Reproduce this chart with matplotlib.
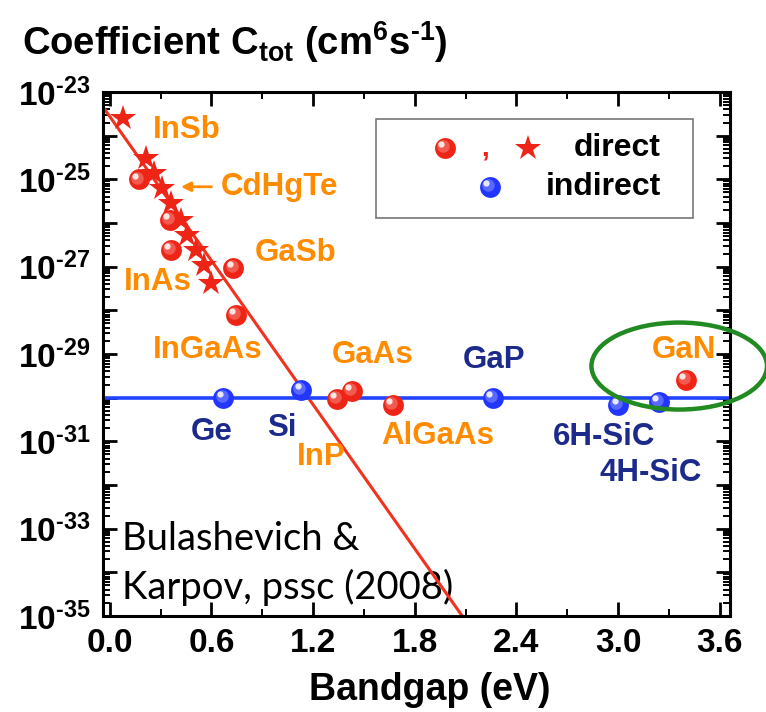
import numpy as np
import matplotlib
matplotlib.use("Agg")
import matplotlib.pyplot as plt
from matplotlib.ticker import FixedLocator, MultipleLocator, FuncFormatter, NullFormatter
from matplotlib.patches import Ellipse, Rectangle
from matplotlib.transforms import offset_copy

plt.rcParams['font.family'] = ['Liberation Sans', 'DejaVu Sans']
plt.rcParams['mathtext.fontset'] = 'custom'
plt.rcParams['mathtext.rm'] = 'Liberation Sans'
plt.rcParams['mathtext.bf'] = 'Liberation Sans:bold'
plt.rcParams['mathtext.it'] = 'Liberation Sans:italic'

# ---- data -------------------------------------------------------------
# direct-gap materials (spheres)
direct_eg = [0.17, 0.355, 0.36, 0.73, 0.745, 1.34, 1.43, 1.67, 3.40]
direct_c = [1.0e-25, 1.2e-26, 2.4e-27, 9.3e-28, 7.9e-29, 9.3e-31, 1.45e-30, 6.9e-31, 2.6e-30]

# CdHgTe alloys (stars)
cdhgte_eg = [0.077, 0.213, 0.26, 0.308, 0.36, 0.42, 0.456, 0.51, 0.556, 0.60]
cdhgte_c = [2.6e-24, 3.1e-25, 1.4e-25, 6.3e-26, 2.9e-26, 1.2e-26, 5.4e-27, 2.4e-27, 1.1e-27, 4.3e-28]

# indirect-gap materials
indirect_eg = [0.67, 1.13, 2.26, 3.00, 3.24]
indirect_c = [1.0e-30, 1.5e-30, 1.0e-30, 6.9e-31, 8.1e-31]

# fits
direct_fit_c0 = 2.75e-24        # value at Eg = 0
direct_fit_slope = -5.5         # decades per eV
indirect_fit_c = 1.0e-30

# material labels: text, Eg position, C position, colour group
label_text = ["InSb", "CdHgTe", "GaSb", "InAs", "InGaAs", "GaAs", "InP", "AlGaAs", "GaN",
              "Ge", "Si", "GaP", "6H-SiC", "4H-SiC"]
label_eg = [0.254, 0.657, 0.858, 0.083, 0.254, 1.31, 1.107, 1.60, 3.20,
            0.48, 0.93, 2.08, 2.615, 2.89]
label_logc = [-23.87, -25.17, -26.68, -27.35, -28.90, -29.02, -31.35, -30.87, -28.90,
              -30.78, -30.69, -29.13, -30.89, -31.72]
label_group = ["direct"] * 9 + ["indirect"] * 5

x_ticks = [0.0, 0.6, 1.2, 1.8, 2.4, 3.0, 3.6]
y_decades = list(range(-35, -22))

# ---- style ------------------------------------------------------------
ORANGE = "#FF8C00"
NAVY = "#1C2A8C"
RED = "#EE2416"
RED_LINE = "#F0321E"
BLUE = "#2236FF"
BLUE_LINE = "#2244FF"
GREEN = "#218A21"
HYPH = "\u2010"

fig = plt.figure(figsize=(7.66, 7.12), dpi=100)
ax = fig.add_axes([103 / 766, 1 - 616 / 712, 627 / 766, 524 / 712])
ax.set_yscale("log")
ax.set_xlim(-0.04, 3.66)
ax.set_ylim(1e-35, 1e-23)


def spheres(ax, x, y, color, ms=15, zorder=4, transform=None):
    tr = ax.transData if transform is None else transform
    ax.plot(x, y, "o", ms=ms, color=color, mec=color, mew=0, transform=tr,
            zorder=zorder, clip_on=False)
    t1 = offset_copy(tr, fig=fig, x=-1.3, y=1.3, units="points")
    ax.plot(x, y, "o", ms=ms * 0.6, color="white", alpha=0.25, mew=0,
            transform=t1, zorder=zorder + 0.1, clip_on=False)
    t2 = offset_copy(tr, fig=fig, x=-2.6, y=2.6, units="points")
    ax.plot(x, y, "o", ms=ms * 0.3, color="white", alpha=0.85, mew=0,
            transform=t2, zorder=zorder + 0.2, clip_on=False)


# fit lines
xx = np.linspace(-0.04, 3.66, 200)
ax.plot(xx, direct_fit_c0 * 10 ** (direct_fit_slope * xx), color=RED_LINE, lw=2.2, zorder=2)
ax.plot(xx, np.full_like(xx, indirect_fit_c), color=BLUE_LINE, lw=2.6, zorder=2)

# markers
ax.plot(cdhgte_eg, cdhgte_c, "*", ms=19, color=RED, mew=0, zorder=3)
spheres(ax, direct_eg, direct_c, RED)
spheres(ax, indirect_eg, indirect_c, BLUE)

# labels
for t, xe, lc, g in zip(label_text, label_eg, label_logc, label_group):
    ax.text(xe, 10 ** lc, t, color=ORANGE if g == "direct" else NAVY,
            fontsize=22.5, fontweight="bold", ha="left", va="center", zorder=5)

# CdHgTe arrow
ax.annotate("", xy=(0.42, 10 ** -25.17), xytext=(0.60, 10 ** -25.17),
            arrowprops=dict(arrowstyle="-|>", color=ORANGE, lw=2.0,
                            mutation_scale=14, shrinkA=0, shrinkB=0))

# source note
ax.text(0.031, 0.126, "Bulashevich &", transform=ax.transAxes,
        family="Lato", fontsize=27.5, color="black", ha="left", va="baseline", zorder=1)
ax.text(0.031, 0.0324, "Karpov, pssc (2008)", transform=ax.transAxes,
        family="Lato", fontsize=27.5, color="black", ha="left", va="baseline", zorder=1)

# legend
ax.add_patch(Rectangle((0.435, 0.760), 0.506, 0.188, transform=ax.transAxes,
                       fill=True, facecolor="white", edgecolor="#777777", lw=1.2, zorder=6))
spheres(ax, [0.545], [0.893], RED, zorder=7, transform=ax.transAxes)
ax.text(0.609, 0.893, ",", transform=ax.transAxes, color=RED, fontsize=20,
        fontweight="bold", ha="center", va="center", zorder=7)
ax.plot([0.678], [0.893], "*", ms=19, color=RED, mew=0, transform=ax.transAxes, zorder=7)
spheres(ax, [0.617], [0.819], BLUE, zorder=7, transform=ax.transAxes)
ax.text(0.890, 0.893, "direct", transform=ax.transAxes, fontsize=23, fontweight="bold",
        ha="right", va="center", zorder=8)
ax.text(0.890, 0.819, "indirect", transform=ax.transAxes, fontsize=23, fontweight="bold",
        ha="right", va="center", zorder=8)

# highlight ring around GaN
ax.add_patch(Ellipse((0.919, 0.477), 0.280, 0.166, transform=ax.transAxes, fill=False,
                     edgecolor=GREEN, lw=3.2, clip_on=False, zorder=9))

# axes styling
for s in ax.spines.values():
    s.set_linewidth(2.2)
ax.xaxis.set_major_locator(FixedLocator(x_ticks))
ax.xaxis.set_minor_locator(MultipleLocator(0.3))
ax.xaxis.set_major_formatter(FuncFormatter(lambda v, p: f"{v:.1f}"))

major_y = [10.0 ** e for e in y_decades]
minor_y = [m * 10.0 ** e for e in y_decades[:-1] for m in range(2, 10)]
ax.yaxis.set_major_locator(FixedLocator(major_y))
ax.yaxis.set_minor_locator(FixedLocator(minor_y))
ax.yaxis.set_minor_formatter(NullFormatter())


def ylab(v, p):
    e = int(round(np.log10(v)))
    if e % 2 == 0:
        return ""
    sign = HYPH if e < 0 else ""
    return r"$\mathbf{10^{%s%d}}$" % (sign, abs(e))


ax.yaxis.set_major_formatter(FuncFormatter(ylab))
ax.tick_params(which="both", direction="in", top=True, right=True)
ax.tick_params(which="major", length=10, width=2, labelsize=24, pad=9)
ax.tick_params(which="minor", length=5, width=1.4)
for lab in ax.get_xticklabels():
    lab.set_fontweight("bold")

fig.text(430 / 766, 1 - 690 / 712, "Bandgap (eV)", fontsize=27, fontweight="bold",
         ha="center", va="center")
fig.text(22 / 766, 1 - 55 / 712,
         r"Coefficient C$_{\mathbf{tot}}$ (cm$^{\mathbf{6}}$s$^{\mathbf{%s1}}$)" % HYPH,
         fontsize=27.5, fontweight="bold", ha="left", va="baseline")

fig.savefig("out.png", dpi=100)
